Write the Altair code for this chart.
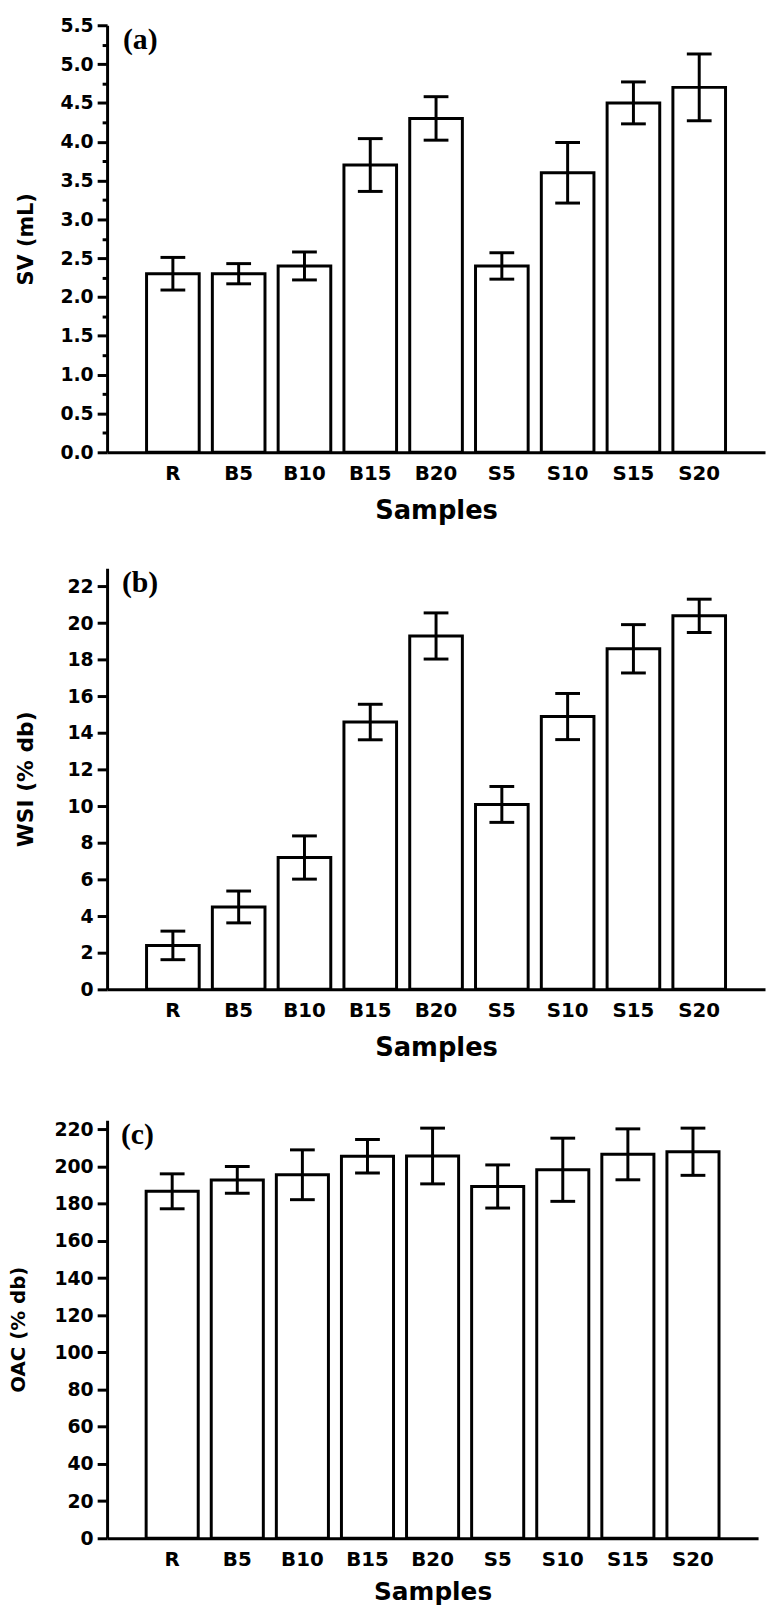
import json
import altair as alt
import pandas as pd

samples = ["R", "B5", "B10", "B15", "B20", "S5", "S10", "S15", "S20"]

sv_mean = [2.3, 2.3, 2.4, 3.7, 4.3, 2.4, 3.6, 4.5, 4.7]
sv_sd = [0.21, 0.13, 0.18, 0.34, 0.28, 0.17, 0.39, 0.27, 0.43]

wsi_mean = [2.4, 4.5, 7.2, 14.6, 19.3, 10.1, 14.9, 18.6, 20.4]
wsi_sd = [0.78, 0.87, 1.18, 0.97, 1.26, 0.98, 1.26, 1.32, 0.91]

oac_mean = [186.7, 192.8, 195.6, 205.6, 205.7, 189.3, 198.3, 206.6, 208.0]
oac_sd = [9.4, 7.2, 13.4, 9.0, 15.0, 11.6, 17.0, 13.7, 12.7]

sv_ticks = [i * 0.25 for i in range(23)]
wsi_ticks = [0, 2, 4, 6, 8, 10, 12, 14, 16, 18, 20, 22]
oac_ticks = [0, 20, 40, 60, 80, 100, 120, 140, 160, 180, 200, 220]

FONT = "DejaVu Sans"
SERIF = "Liberation Serif"


def panel(mean, sd, ytitle, ymax, ticks, label, label_x, width, height,
          title_pad, title_size, x_title_pad, x_title_size,
          label_expr=None, minor=False):
    df = pd.DataFrame({"sample": samples, "mean": mean, "sd": sd})
    base = alt.Chart(df).transform_calculate(
        lo="datum.mean - datum.sd", hi="datum.mean + datum.sd"
    )
    x = alt.X(
        "sample:N",
        sort=samples,
        title="Samples",
        scale=alt.Scale(paddingInner=0, paddingOuter=0.5),
        axis=alt.Axis(
            ticks=False, labelAngle=0, labelPadding=11,
            titlePadding=x_title_pad, domainWidth=3, domainColor="black",
            labelFont=FONT, labelFontWeight="bold", labelFontSize=20,
            labelColor="black", titleFont=FONT, titleFontSize=x_title_size,
            titleFontWeight="bold", titleColor="black",
        ),
    )
    axis_kwargs = dict(
        values=ticks, domainWidth=3, domainColor="black", tickWidth=3,
        tickColor="black", labelFont=FONT, labelFontWeight="bold",
        labelFontSize=19, labelColor="black", labelPadding=4,
        titleFont=FONT, titleFontSize=title_size, titleFontWeight="bold",
        titleColor="black", titlePadding=title_pad, minExtent=50,
        maxExtent=50, grid=False, labelOverlap=False,
    )
    if minor:
        axis_kwargs["tickSize"] = {
            "condition": {"test": "datum.value % 0.5 === 0", "value": 10},
            "value": 5,
        }
        axis_kwargs["labelExpr"] = label_expr
    else:
        axis_kwargs["tickSize"] = 10
    yaxis = alt.Axis(**axis_kwargs)
    yscale = alt.Scale(domain=[0, ymax], nice=False, zero=True)

    def yenc(field):
        return alt.Y(field, title=ytitle, scale=yscale, axis=yaxis)

    bars = base.mark_bar(
        width=alt.RelativeBandSize(0.8), fill="white", stroke="black",
        strokeWidth=3,
    ).encode(x=x, y=yenc("mean:Q"))
    err = base.mark_rule(color="black", strokeWidth=3).encode(
        x=x, y=yenc("lo:Q"), y2="hi:Q"
    )
    cap_hi = base.mark_tick(
        color="black", thickness=3, size=25, opacity=1
    ).encode(x=x, y=yenc("hi:Q"))
    cap_lo = base.mark_tick(
        color="black", thickness=3, size=25, opacity=1
    ).encode(x=x, y=yenc("lo:Q"))
    lab = alt.Chart(pd.DataFrame({"t": [label]})).mark_text(
        font=SERIF, fontWeight="bold", fontSize=30, align="left",
        baseline="top", color="black",
    ).encode(text="t:N", x=alt.value(label_x), y=alt.value(0))
    return alt.layer(bars, err, cap_hi, cap_lo, lab).properties(
        width=width, height=height
    )


pa = panel(sv_mean, sv_sd, "SV (mL)", 5.5, sv_ticks, "(a)", 16, 664, 431,
           21, 21, 15, 26,
           label_expr="datum.value % 0.5 === 0 ? format(datum.value, '.1f') : ''",
           minor=True)
pb = panel(wsi_mean, wsi_sd, "WSI (% db)", 23, wsi_ticks, "(b)", 15, 664, 425,
           20, 22, 15, 26)
pc = panel(oac_mean, oac_sd, "OAC (% db)", 225, oac_ticks, "(c)", 14, 657, 422,
           29, 20, 11, 25)

chart = alt.vconcat(
    alt.vconcat(pa, pb, spacing=43),
    pc,
    spacing=58,
).properties(
    padding={"left": 0, "top": 0, "right": 0, "bottom": 0},
    background="white",
).configure_view(stroke="transparent")

chart.save("out.html", embed_options={"renderer": "svg", "actions": False})
